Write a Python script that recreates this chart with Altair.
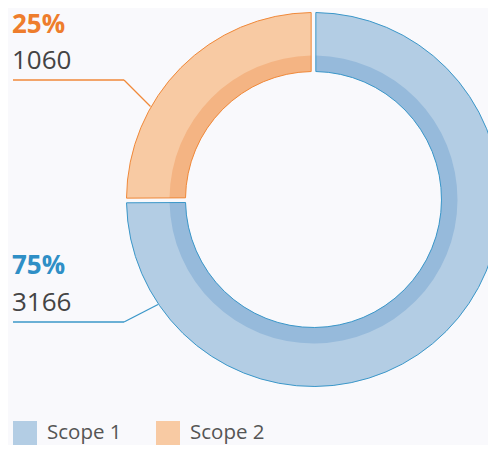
import altair as alt
import pandas as pd

# ---- data ----
categories = ["Scope 1", "Scope 2"]
values = [3166, 1060]
percent_labels = ["75%", "25%"]
value_labels = ["3166", "1060"]

# ---- styles ----
fill_colors = ["#b3cde4", "#f8caa3"]
band_colors = ["#96badb", "#f4b483"]
stroke_colors = ["#3b97c9", "#f0893a"]
label_colors = ["#2f8fc6", "#ee7d2c"]
FONT = "Open Sans"

df = pd.DataFrame({"category": categories, "value": values, "order": [0, 1]})

CX, CY = 305.5, 191.5
R_IN, R_OUT, R_BAND = 128, 187, 144
PAD = 0.0206
PAD_BAND = PAD * ((R_IN**2 + R_OUT**2) ** 0.5) / ((R_IN**2 + R_BAND**2) ** 0.5)

base = alt.Chart(df).encode(
    theta=alt.Theta("value:Q", stack=True),
    order=alt.Order("order:Q"),
    x=alt.value(CX),
    y=alt.value(CY),
)

fill_layer = base.mark_arc(innerRadius=R_IN, outerRadius=R_OUT, padAngle=PAD, strokeWidth=0).encode(
    color=alt.Color(
        "category:N",
        scale=alt.Scale(domain=categories, range=fill_colors),
        legend=alt.Legend(
            title=None,
            orient="none",
            legendX=5,
            legendY=413,
            direction="horizontal",
            symbolType="square",
            symbolSize=576,
            symbolStrokeWidth=0,
            symbolOpacity=1,
            labelFont=FONT,
            labelFontSize=20.5,
            labelColor="#555555",
            labelOffset=10,
            columnPadding=34,
            padding=0,
        ),
    )
)

band_layer = base.mark_arc(innerRadius=R_IN, outerRadius=R_BAND, padAngle=PAD_BAND, strokeWidth=0).encode(
    fill=alt.Fill("category:N", scale=alt.Scale(domain=categories, range=band_colors), legend=None)
)

outline_layer = base.mark_arc(innerRadius=R_IN, outerRadius=R_OUT, padAngle=PAD, fillOpacity=0, strokeWidth=1).encode(
    stroke=alt.Stroke("category:N", scale=alt.Scale(domain=categories, range=stroke_colors), legend=None)
)

one = pd.DataFrame({"k": [0]})


def text_layer(txt, x, y, color, bold):
    return alt.Chart(one).mark_text(
        text=txt,
        font=FONT,
        fontSize=26,
        fontWeight="bold" if bold else "normal",
        color=color,
        align="left",
        baseline="alphabetic",
    ).encode(x=alt.value(x), y=alt.value(y))


def rule_layer(x1, y1, x2, y2, color):
    return alt.Chart(one).mark_rule(color=color, strokeWidth=1.3).encode(
        x=alt.value(x1), y=alt.value(y1), x2=alt.value(x2), y2=alt.value(y2)
    )


layers = [
    fill_layer,
    band_layer,
    outline_layer,
    # Scope 2 annotation
    text_layer(percent_labels[1], 4, 24.5, label_colors[1], True),
    text_layer(value_labels[1], 4, 60.5, "#444444", False),
    rule_layer(5, 72, 116, 72, stroke_colors[1]),
    rule_layer(116, 72, 142.5, 98.5, stroke_colors[1]),
    # Scope 1 annotation
    text_layer(percent_labels[0], 4, 265.5, label_colors[0], True),
    text_layer(value_labels[0], 4, 302.8, "#444444", False),
    rule_layer(5, 314, 116, 314, stroke_colors[0]),
    rule_layer(116, 314, 150, 296.5, stroke_colors[0]),
]

chart = (
    alt.layer(*layers)
    .properties(
        width=480,
        height=437,
        autosize="none",
        padding=0,
        background="#f9f9fc",
    )
    .configure_view(stroke=None)
)

chart.save("out.html", embed_options={"renderer": "svg", "actions": False})
